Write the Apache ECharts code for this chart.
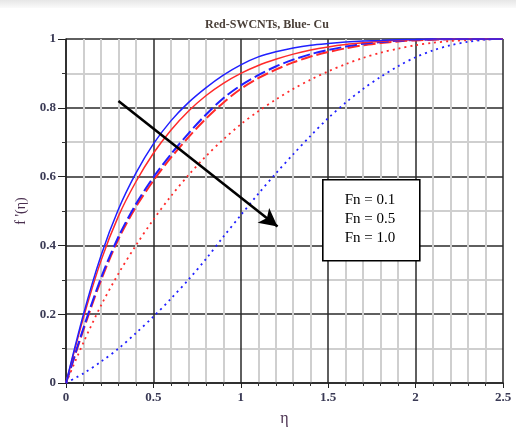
<!DOCTYPE html>
<html>
<head>
<meta charset="utf-8">
<script src="https://cdn.jsdelivr.net/npm/echarts@6/dist/echarts.min.js"></script>
<style>html,body{margin:0;padding:0;background:#fff}#c{width:516px;height:432px}</style>
</head>
<body>
<div id="c"></div>
<script>
// η sample positions (step 0.1)
var eta = [0, 0.1, 0.2, 0.3, 0.4, 0.5, 0.6, 0.7, 0.8, 0.9, 1.0, 1.1, 1.2, 1.3, 1.4, 1.5, 1.6, 1.7, 1.8, 1.9, 2.0, 2.1, 2.2, 2.3, 2.4, 2.5];
// Red = SWCNTs, Blue = Cu ; Fn = 0.1 (solid), 0.5 (dashed), 1.0 (dotted)
var blueFn01 = [0, 0.2, 0.37, 0.505, 0.61, 0.695, 0.762, 0.815, 0.858, 0.895, 0.925, 0.948, 0.963, 0.974, 0.982, 0.987, 0.991, 0.994, 0.996, 0.998, 0.999, 1, 1, 1, 1, 1];
var redFn01  = [0, 0.19, 0.355, 0.485, 0.585, 0.668, 0.735, 0.79, 0.835, 0.871, 0.9, 0.923, 0.941, 0.956, 0.968, 0.977, 0.984, 0.989, 0.993, 0.996, 0.998, 0.999, 1, 1, 1, 1];
var blueFn05 = [0, 0.16, 0.305, 0.425, 0.52, 0.598, 0.665, 0.725, 0.78, 0.828, 0.865, 0.895, 0.92, 0.94, 0.956, 0.968, 0.978, 0.986, 0.991, 0.995, 0.997, 0.999, 1, 1, 1, 1];
var redFn05  = [0, 0.155, 0.298, 0.418, 0.512, 0.588, 0.655, 0.714, 0.768, 0.815, 0.855, 0.886, 0.911, 0.932, 0.949, 0.962, 0.973, 0.982, 0.988, 0.993, 0.996, 0.998, 0.999, 1, 1, 1];
var redFn10  = [0, 0.118, 0.225, 0.318, 0.4, 0.475, 0.543, 0.604, 0.659, 0.708, 0.752, 0.79, 0.824, 0.855, 0.882, 0.906, 0.927, 0.945, 0.96, 0.972, 0.982, 0.989, 0.994, 0.997, 0.999, 1];
var blueFn10 = [0, 0.028, 0.062, 0.1, 0.145, 0.193, 0.245, 0.3, 0.36, 0.425, 0.488, 0.55, 0.609, 0.665, 0.719, 0.77, 0.815, 0.855, 0.89, 0.921, 0.947, 0.967, 0.982, 0.992, 0.998, 1];
var xTicks = ['0', '0.5', '1', '1.5', '2', '2.5'];
var yTicks = ['0', '0.2', '0.4', '0.6', '0.8', '1'];
var legendLines = ['Fn = 0.1', 'Fn = 0.5', 'Fn = 1.0'];
var arrowFrom = [0.30, 0.82];
var arrowTo = [1.21, 0.455];

function pairs(ys){ return eta.map(function(x,i){ return [x, ys[i]]; }); }
var RED = '#ff2a2a', BLUE = '#2020ff';
function mk(name, ys, color, type){
  return { name:name, type:'line', data:pairs(ys), smooth:0.3, symbol:'none',
    lineStyle:{ color:color, width: type==='solid'?1.5:(type==='dotted'?1.8:2), type:type==='solid'?'solid':(type==='dashed'?[12,4]:[2,4]) },
    z:3 };
}
var serif = '"Liberation Serif","DejaVu Serif",serif';
var chart = echarts.init(document.getElementById('c'));
var series = [
  mk('SWCNTs Fn=1.0', redFn10, RED, 'dotted'),
  mk('Cu Fn=1.0', blueFn10, BLUE, 'dotted'),
  mk('SWCNTs Fn=0.5', redFn05, RED, 'dashed'),
  mk('Cu Fn=0.5', blueFn05, BLUE, 'dashed'),
  mk('SWCNTs Fn=0.1', redFn01, RED, 'solid'),
  mk('Cu Fn=0.1', blueFn01, BLUE, 'solid')
];
series.push({
  type:'line', data:[], silent:true,
  markLine:{ silent:true, animation:false, symbol:['none','arrow'], symbolSize:[14,18],
    lineStyle:{ color:'#000', width:2.6, type:'solid' }, label:{show:false},
    data:[[{coord:arrowFrom},{coord:arrowTo}]] }
});
chart.setOption({
  animation:false,
  backgroundColor:'#fff',
  title:{ text:'Red-SWCNTs, Blue- Cu', left:262, top:14, textAlign:'center',
    textStyle:{ fontFamily:serif, fontSize:12, fontWeight:'bold', color:'#4a3f38' } },
  grid:{ left:66, right:13, top:39, bottom:45 },
  xAxis:{ type:'value', min:0, max:2.5, interval:0.5,
    name:'η', nameLocation:'middle', nameGap:28,
    nameTextStyle:{ fontFamily:serif, fontSize:16, color:'#4a3050' },
    axisLine:{ show:true, lineStyle:{ color:'#222', width:1.5 } },
    axisTick:{ show:true, length:5, lineStyle:{ color:'#222' } },
    minorTick:{ show:true, splitNumber:5, length:3, lineStyle:{ color:'#333' } },
    axisLabel:{ fontFamily:serif, fontSize:13, fontWeight:'bold', color:'#3a3a55', margin:8,
      formatter:function(v){ var s = xTicks[Math.round(v/0.5)]; return s===undefined?'':s; } },
    splitLine:{ show:true, lineStyle:{ color:'#2a2a2a', width:1.5 } },
    minorSplitLine:{ show:true, lineStyle:{ color:'#cfcfcf', width:2 } }
  },
  yAxis:{ type:'value', min:0, max:1, interval:0.2,
    name:"f '(η)", nameLocation:'middle', nameGap:38, nameRotate:90,
    nameTextStyle:{ fontFamily:serif, fontSize:14, color:'#4a3050' },
    axisLine:{ show:true, lineStyle:{ color:'#222', width:1.5 } },
    axisTick:{ show:true, length:8, lineStyle:{ color:'#222' } },
    minorTick:{ show:true, splitNumber:2, length:4, lineStyle:{ color:'#333' } },
    axisLabel:{ fontFamily:serif, fontSize:13, fontWeight:'bold', color:'#3a3a55', margin:10,
      formatter:function(v){ var s = yTicks[Math.round(v/0.2)]; return s===undefined?'':s; } },
    splitLine:{ show:true, lineStyle:{ color:'#2a2a2a', width:1.5 } },
    minorSplitLine:{ show:true, lineStyle:{ color:'#cfcfcf', width:2 } }
  },
  series:series,
  graphic:[
    { type:'rect', left:0, top:0, shape:{ width:516, height:8 }, silent:true,
      style:{ fill:new echarts.graphic.LinearGradient(0,0,0,1,[{offset:0,color:'#e6e6e6'},{offset:1,color:'#fafafa'}]) } },
    { type:'rect', left:322, top:179, z:10, shape:{ width:97, height:81 },
      style:{ fill:'#fff', stroke:'#000', lineWidth:1.6 } },
    { type:'text', x:370, y:191, z:11,
      style:{ text:legendLines.join('\n'), fontFamily:serif, fontSize:15, lineHeight:19, fill:'#000', align:'center', verticalAlign:'top' } }
  ]
});
</script>
</body>
</html>
